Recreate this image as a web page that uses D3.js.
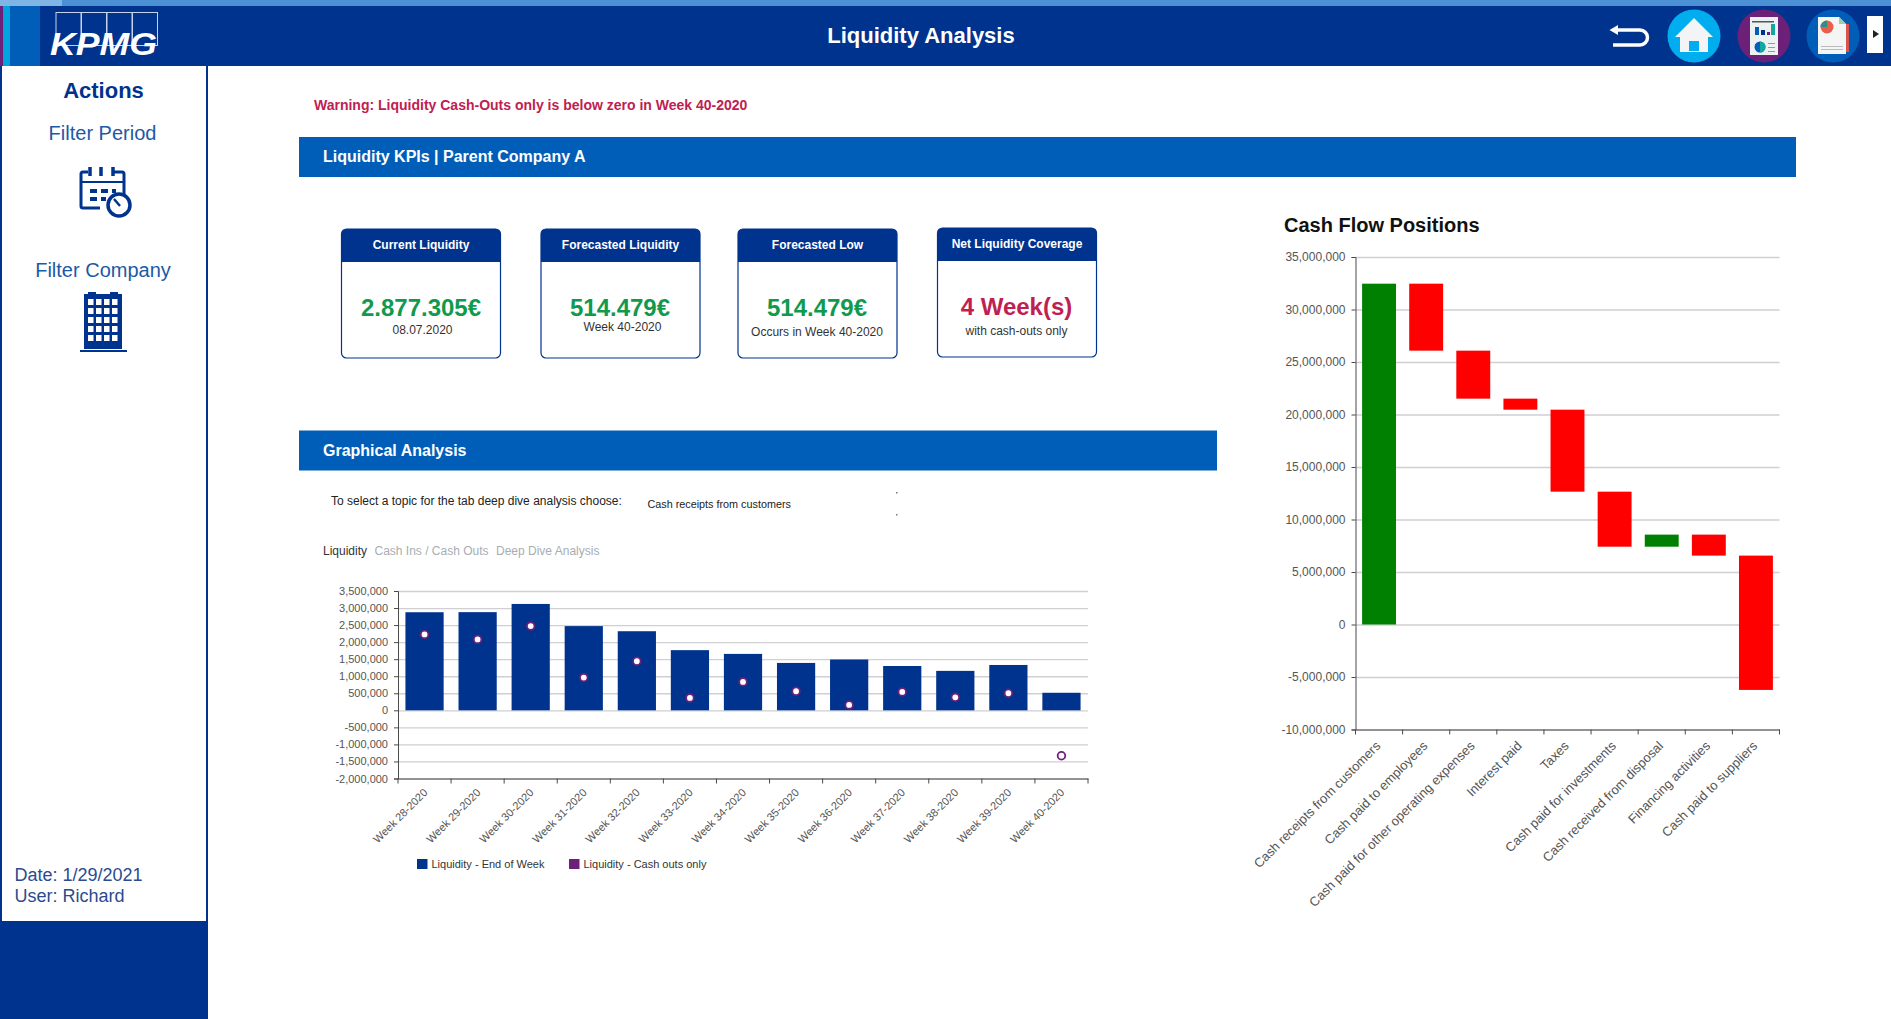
<!DOCTYPE html>
<html>
<head>
<meta charset="utf-8">
<title>Liquidity Analysis</title>
<script src="https://cdn.jsdelivr.net/npm/d3@7/dist/d3.min.js"></script>
<style>
  html, body { margin: 0; padding: 0; background: #fff; overflow: hidden; }
  svg { display: block; font-family: "Liberation Sans", Arial, sans-serif; }
  .grid line { stroke: #cfcfd4; stroke-width: 1.3; }
  .grid .domain { display: none; }
  .axis .domain, .axis line { stroke: #4a4a4a; }
  .axis text { fill: #555; }
</style>
</head>
<body>
<svg id="page" width="1891" height="1019"></svg>
<script>
// Data
const weeks = ["Week 28-2020", "Week 29-2020", "Week 30-2020", "Week 31-2020", "Week 32-2020",
  "Week 33-2020", "Week 34-2020", "Week 35-2020", "Week 36-2020", "Week 37-2020",
  "Week 38-2020", "Week 39-2020", "Week 40-2020"];
const liquidityEndOfWeek = [2877305, 2880000, 3120000, 2470000, 2320000, 1765000, 1655000,
  1390000, 1490000, 1300000, 1157000, 1330000, 514479];
const liquidityCashOuts = [2225000, 2080000, 2470000, 960000, 1440000, 363000, 833000,
  560000, 157000, 540000, 382000, 500000, -1333000];
const liquidityTicks = [3500000, 3000000, 2500000, 2000000, 1500000, 1000000, 500000, 0,
  -500000, -1000000, -1500000, -2000000];

const cashFlowCategories = ["Cash receipts from customers", "Cash paid to employees",
  "Cash paid for other operating expenses", "Interest paid", "Taxes",
  "Cash paid for investments", "Cash received from disposal", "Financing activities",
  "Cash paid to suppliers"];
const cashFlowChanges = [32460000, -6380000, -4570000, -1050000, -7810000, -5240000,
  1150000, -2000000, -12790000];
const cashFlowTicks = [35000000, 30000000, 25000000, 20000000, 15000000, 10000000, 5000000,
  0, -5000000, -10000000];

const kpiTitles = ["Current Liquidity", "Forecasted Liquidity", "Forecasted Low", "Net Liquidity Coverage"];
const kpiValues = ["2.877.305€", "514.479€", "514.479€", "4 Week(s)"];
const kpiNotes = ["08.07.2020", "Week 40-2020", "Occurs in Week 40-2020", "with cash-outs only"];
const tabLabels = ["Liquidity", "Cash Ins / Cash Outs", "Deep Dive Analysis"];
const legendLabels = ["Liquidity - End of Week", "Liquidity - Cash outs only"];

// Colours
const NAVY = "#00338d";
const BLUE = "#005eb8";
const CYAN = "#00a3e1";
const PURPLE = "#6d2077";
const GREEN = "#0f9a4e";
const CRIMSON = "#bf2051";

const svg = d3.select("#page");

// Tick labels use a plain hyphen for negatives
const formatTick = (v) => d3.format(",")(v).replace("\u2212", "-");

function addText(parent, x, y, str, size, opts = {}) {
  return parent.append("text")
    .attr("x", x).attr("y", y)
    .attr("dy", "0.35em")
    .attr("font-size", size)
    .attr("font-weight", opts.bold ? "bold" : "normal")
    .attr("font-style", opts.italic ? "italic" : "normal")
    .attr("text-anchor", opts.anchor || "start")
    .attr("fill", opts.fill || "#222")
    .text(str);
}

function addRect(parent, x, y, w, h, fill) {
  return parent.append("rect").attr("x", x).attr("y", y).attr("width", w).attr("height", h).attr("fill", fill);
}

// Header
function drawHeader() {
  const g = svg.append("g");
  addRect(g, 0, 0, 1891, 6, "#4a90d2");
  addRect(g, 0, 0, 62, 6, "#7fb4e4");
  addRect(g, 0, 6, 1891, 60, NAVY);
  addRect(g, 0, 6, 3, 60, PURPLE);
  addRect(g, 3, 6, 7, 60, CYAN);
  addRect(g, 10, 6, 30, 60, BLUE);

  // logo
  d3.range(4).forEach((i) => {
    g.append("rect").attr("x", 56 + i * 25.5).attr("y", 12.5).attr("width", 25).attr("height", 33)
      .attr("fill", "none").attr("stroke", "#c9d3e8").attr("stroke-width", 1);
  });
  g.append("text").attr("x", 50).attr("y", 55).attr("font-size", 32).attr("font-weight", "bold")
    .attr("font-style", "italic").attr("fill", "#fff")
    .attr("textLength", 107).attr("lengthAdjust", "spacingAndGlyphs").text("KPMG");

  addText(g, 921, 35, "Liquidity Analysis", 22, { bold: true, anchor: "middle", fill: "#fff" });

  // back arrow
  g.append("path")
    .attr("d", "M1617 30 H1640 a7.5 7.5 0 0 1 0 15 H1613")
    .attr("fill", "none").attr("stroke", "#fff").attr("stroke-width", 3.5);
  g.append("path").attr("d", "M1609.5 30 L1618 25 V35 Z").attr("fill", "#fff");

  // home button
  g.append("circle").attr("cx", 1694).attr("cy", 36).attr("r", 26.5).attr("fill", "#00aeef");
  g.append("path").attr("d", "M1694 18 L1713 37 H1708 V52 H1680 V37 H1675 Z").attr("fill", "#f2f4f5");
  addRect(g, 1689, 41, 10, 10, "#00aeef");

  // report button
  g.append("circle").attr("cx", 1764).attr("cy", 36).attr("r", 26.5).attr("fill", PURPLE);
  addRect(g, 1750, 17, 28, 38, "#eef1f2");
  addRect(g, 1752, 21, 22, 1.5, "#555");
  addRect(g, 1755, 27, 4, 8, BLUE);
  addRect(g, 1761, 30, 4, 5, NAVY);
  addRect(g, 1767, 32, 3, 3, PURPLE);
  addRect(g, 1771, 24, 4, 11, "#12a89d");
  g.append("circle").attr("cx", 1760).attr("cy", 47).attr("r", 5.5).attr("fill", BLUE);
  g.append("path").attr("d", "M1760 41.5 a5.5 5.5 0 0 1 0 11 Z").attr("fill", "#12a89d");
  addRect(g, 1768, 43, 7, 1, "#999");
  addRect(g, 1768, 47, 7, 1, "#999");
  addRect(g, 1768, 51, 7, 1, "#999");

  // analysis button
  g.append("circle").attr("cx", 1833).attr("cy", 36).attr("r", 26.5).attr("fill", BLUE);
  g.append("path").attr("d", "M1818 17 H1839 L1846 24 V54 H1818 Z").attr("fill", "#f4f6f6");
  g.append("path").attr("d", "M1839 17 L1846 24 H1839 Z").attr("fill", "#9ccfb0");
  addRect(g, 1846, 24, 3, 28, "#d9534f");
  g.append("circle").attr("cx", 1827).attr("cy", 27).attr("r", 6.5).attr("fill", "#e8604c");
  g.append("path").attr("d", "M1827 27 L1820.5 27 A6.5 6.5 0 0 1 1827 20.5 Z").attr("fill", "#2f8f83");
  addRect(g, 1821, 46, 22, 1, "#bbb");
  addRect(g, 1821, 49, 22, 1, "#bbb");

  // panel toggle
  addRect(g, 1867, 16, 16, 37, "#fff");
  g.append("path").attr("d", "M1873 30 L1879 34 L1873 38 Z").attr("fill", "#222");
}

// Sidebar
function drawSidebar() {
  const g = svg.append("g");
  addRect(g, 0, 66, 2, 855, NAVY);
  addRect(g, 206, 66, 2, 855, NAVY);
  addRect(g, 0, 921, 208, 98, NAVY);

  addText(g, 103.5, 90, "Actions", 22, { bold: true, anchor: "middle", fill: NAVY });
  addText(g, 102.5, 133, "Filter Period", 20, { anchor: "middle", fill: "#1c5aa6" });
  addText(g, 103, 270, "Filter Company", 20, { anchor: "middle", fill: "#1c5aa6" });

  // calendar icon
  const cal = g.append("g").attr("fill", "none").attr("stroke", NAVY).attr("stroke-width", 3);
  cal.append("path").attr("d", "M112 172 H122 a2 2 0 0 1 2 2 V194 M100 208 H83 a2 2 0 0 1 -2 -2 V174 a2 2 0 0 1 2 -2 H88");
  cal.append("path").attr("d", "M90 167 V176 M101 167 V176 M113 167 V176").attr("stroke-width", 3.5);
  cal.append("path").attr("d", "M81 182 H124").attr("stroke-width", 2);
  cal.append("path").attr("d", "M90 191 H97 M101 191 H108 M112 191 H116 M90 199 H97 M101 199 H106").attr("stroke-width", 4);
  g.append("circle").attr("cx", 119).attr("cy", 205).attr("r", 11).attr("fill", "#fff")
    .attr("stroke", NAVY).attr("stroke-width", 3.5);
  g.append("path").attr("d", "M114 199 L120 206").attr("stroke", NAVY).attr("stroke-width", 2.5);

  // building icon
  addRect(g, 84, 294, 38, 55, NAVY);
  addRect(g, 88, 292, 8, 3, NAVY);
  addRect(g, 110, 292, 8, 3, NAVY);
  addRect(g, 80, 350, 47, 2, NAVY);
  d3.range(5).forEach((r) => d3.range(4).forEach((c) => {
    addRect(g, 88 + c * 8, 299 + r * 9, 5.5, 6, "#fff");
  }));

  addText(g, 14.5, 875, "Date: 1/29/2021", 18, { fill: "#2a4b90" });
  addText(g, 14.5, 896, "User: Richard", 18, { fill: "#2a4b90" });
}

// Banners and loose text
function drawLabels() {
  const g = svg.append("g");
  addText(g, 314, 105, "Warning: Liquidity Cash-Outs only is below zero in Week 40-2020", 14, { bold: true, fill: CRIMSON });

  addRect(g, 299, 137, 1497, 40, BLUE);
  addText(g, 323, 156.5, "Liquidity KPIs | Parent Company A", 16, { bold: true, fill: "#fff" });

  addRect(g, 299, 430.5, 918, 40, BLUE);
  addText(g, 323, 450.5, "Graphical Analysis", 16, { bold: true, fill: "#fff" });

  addText(g, 331, 500.5, "To select a topic for the tab deep dive analysis choose:", 12, { fill: "#222" });
  addText(g, 647.5, 504, "Cash receipts from customers", 10.8, { fill: "#222" });
  addRect(g, 896, 492, 1.5, 1.5, "#777");
  addRect(g, 896, 514, 1.5, 1.5, "#777");

  const tabX = [323, 374.5, 496];
  tabLabels.forEach((t, i) => {
    addText(g, tabX[i], 551, t, 12, { fill: i === 0 ? "#333" : "#a8adb3" });
  });

  addText(g, 1284, 225, "Cash Flow Positions", 20, { bold: true, fill: "#111" });
}

// KPI cards
function drawCards() {
  const lefts = [341.5, 541, 738, 937.5];
  const tops = [229, 229, 229, 228];
  const valueX = [421, 620, 817, 1016.5];
  const noteX = [422.5, 622.5, 817, 1016.5];
  const noteY = [330, 327, 331.5, 330.5];
  kpiTitles.forEach((title, i) => {
    const g = svg.append("g");
    const x = lefts[i], y = tops[i];
    g.append("rect").attr("x", x).attr("y", y).attr("width", 159).attr("height", 129).attr("rx", 5)
      .attr("fill", "#fff").attr("stroke", NAVY).attr("stroke-width", 1.2);
    g.append("rect").attr("x", x).attr("y", y).attr("width", 159).attr("height", 20).attr("rx", 5).attr("fill", NAVY);
    addRect(g, x, y + 10, 159, 23, NAVY);
    addText(g, x + 79.5, y + 15.5, title, 12, { bold: true, anchor: "middle", fill: "#fff" });
    addText(g, valueX[i], y + 78.7, kpiValues[i], 24, { bold: true, anchor: "middle", fill: i === 3 ? CRIMSON : GREEN });
    addText(g, noteX[i], noteY[i], kpiNotes[i], 12, { anchor: "middle", fill: "#333" });
  });
}

// Liquidity bars
function drawLiquidity() {
  const x = d3.scaleBand().domain(weeks).range([398, 1088]).paddingInner(0.28).paddingOuter(0.14);
  const y = d3.scaleLinear().domain([-2000000, 3500000]).range([778.5, 591]);
  const g = svg.append("g");

  g.append("g").attr("class", "grid").attr("transform", "translate(398,0)")
    .call(d3.axisLeft(y).tickValues(liquidityTicks).tickSize(-690).tickFormat(""));

  g.selectAll(".bar").data(weeks).join("rect")
    .attr("class", "bar")
    .attr("x", (d) => x(d))
    .attr("y", (d, i) => y(liquidityEndOfWeek[i]))
    .attr("width", x.bandwidth())
    .attr("height", (d, i) => y(0) - y(liquidityEndOfWeek[i]))
    .attr("fill", NAVY);

  g.selectAll(".dot").data(weeks).join("circle")
    .attr("class", "dot")
    .attr("cx", (d) => x(d) + x.bandwidth() / 2)
    .attr("cy", (d, i) => y(liquidityCashOuts[i]))
    .attr("r", 3.8)
    .attr("fill", "#fff")
    .attr("stroke", PURPLE)
    .attr("stroke-width", 1.8);

  const yAxis = g.append("g").attr("class", "axis").attr("transform", "translate(398,0)")
    .call(d3.axisLeft(y).tickValues(liquidityTicks).tickSize(4).tickPadding(6).tickFormat(formatTick));
  yAxis.selectAll("text").attr("font-size", 11).attr("font-family", "inherit");

  drawBandAxis(g, x, 778.5, 11, 1, 12);

  // legend
  const legendX = [417, 569];
  const legendColors = [NAVY, PURPLE];
  legendLabels.forEach((label, i) => {
    addRect(g, legendX[i], 859, 10.5, 10, legendColors[i]);
    addText(g, legendX[i] + 14.5, 864, label, 11, { fill: "#333" });
  });
}

// Cash flow waterfall
function drawCashFlow() {
  const x = d3.scaleBand().domain(cashFlowCategories).range([1355.5, 1779.5]).paddingInner(0.28).paddingOuter(0.14);
  const y = d3.scaleLinear().domain([-10000000, 35000000]).range([729.5, 257]);
  const ends = Array.from(d3.cumsum(cashFlowChanges));
  const g = svg.append("g");

  g.append("g").attr("class", "grid").attr("transform", "translate(1355.5,0)")
    .call(d3.axisLeft(y).tickValues(cashFlowTicks).tickSize(-424).tickFormat(""));

  g.selectAll(".step").data(cashFlowCategories).join("rect")
    .attr("class", "step")
    .attr("x", (d) => x(d))
    .attr("y", (d, i) => y(Math.max(ends[i], ends[i] - cashFlowChanges[i])))
    .attr("width", x.bandwidth())
    .attr("height", (d, i) => Math.abs(y(ends[i]) - y(ends[i] - cashFlowChanges[i])))
    .attr("fill", (d, i) => (cashFlowChanges[i] > 0 ? "#008000" : "#ff0000"));

  const yAxis = g.append("g").attr("class", "axis").attr("transform", "translate(1355.5,0)")
    .call(d3.axisLeft(y).tickValues(cashFlowTicks).tickSize(4).tickPadding(6).tickFormat(formatTick));
  yAxis.selectAll("text").attr("font-size", 12).attr("font-family", "inherit");

  drawBandAxis(g, x, 729.5, 13, -1, 14);
}

// Band axis with ticks on the band edges, labels slanted under the centres
function drawBandAxis(parent, x, yPos, fontSize, labelShift, labelGap) {
  const axis = parent.append("g").attr("class", "axis").attr("transform", `translate(0,${yPos})`)
    .call(d3.axisBottom(x).tickSize(0).tickPadding(0));
  axis.selectAll(".tick text")
    .attr("font-size", fontSize)
    .attr("font-family", "inherit")
    .attr("text-anchor", "end")
    .attr("dy", "0.35em")
    .attr("y", 0)
    .attr("transform", `translate(${labelShift},${labelGap}) rotate(-45)`);
  const [r0] = x.range();
  axis.selectAll(".edge").data(d3.range(x.domain().length + 1)).join("line")
    .attr("class", "edge")
    .attr("x1", (i) => r0 + i * x.step())
    .attr("x2", (i) => r0 + i * x.step())
    .attr("y1", 0)
    .attr("y2", 5);
}

drawHeader();
drawSidebar();
drawLabels();
drawCards();
drawLiquidity();
drawCashFlow();
</script>
</body>
</html>
